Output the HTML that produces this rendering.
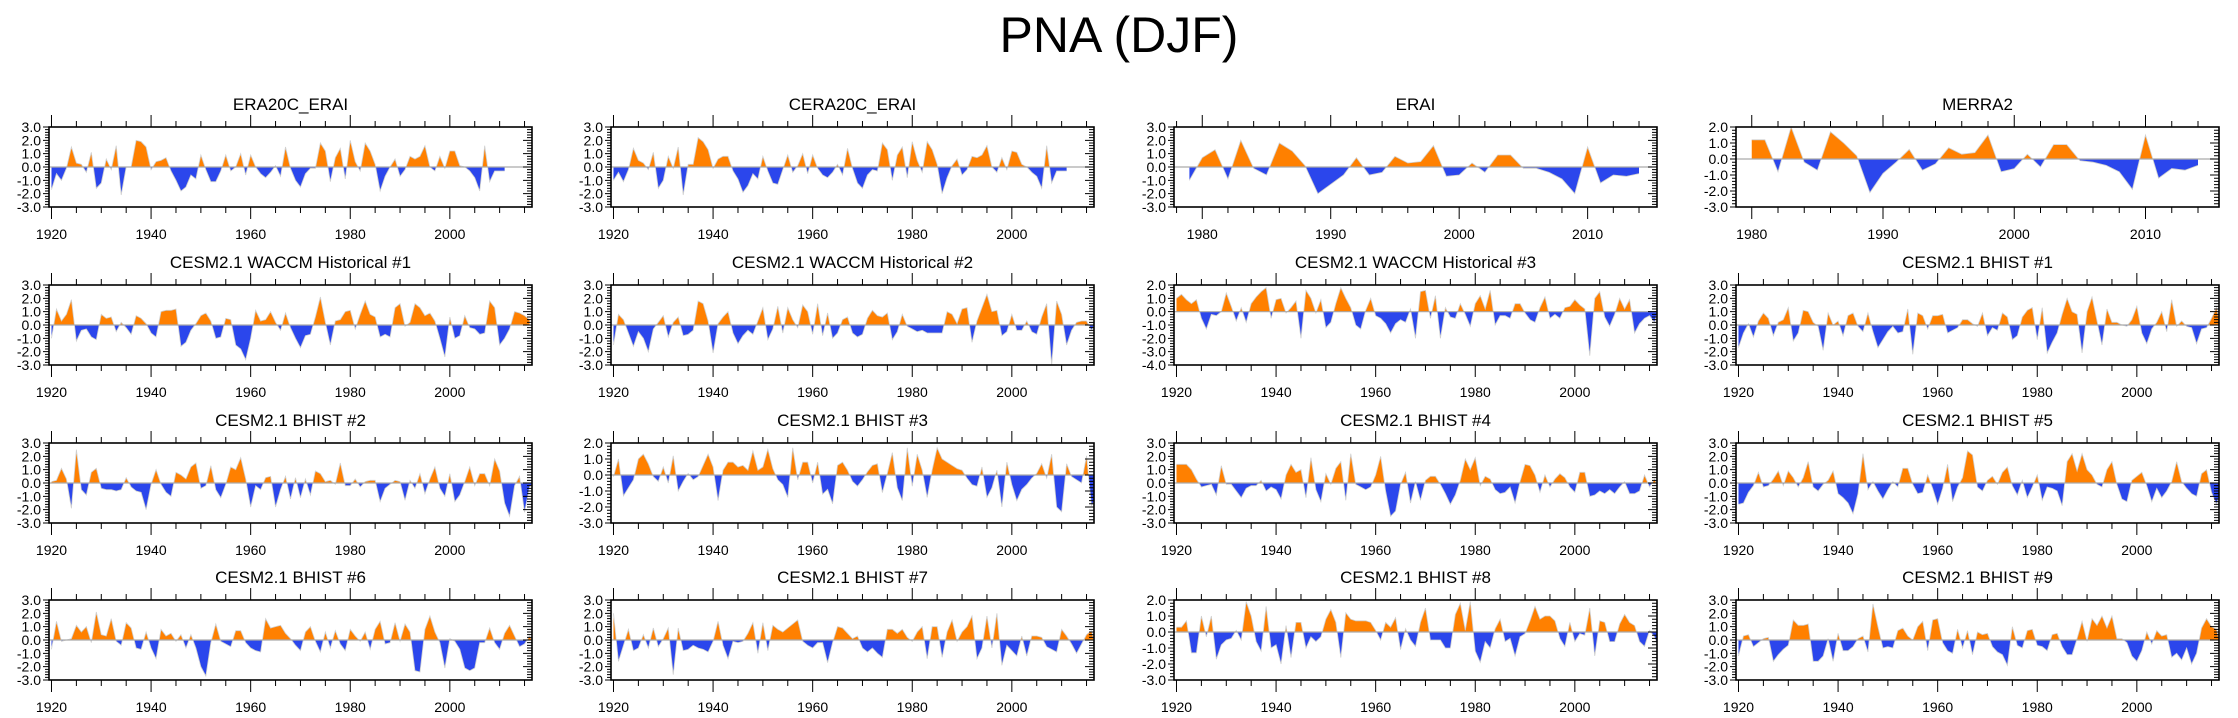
<!DOCTYPE html>
<html><head><meta charset="utf-8">
<style>
html,body{margin:0;padding:0;background:#fff;}
svg{display:block;font-family:"Liberation Sans",sans-serif;}
</style></head>
<body>
<svg id="chart" width="2238" height="718" viewBox="0 0 2238 718" xmlns="http://www.w3.org/2000/svg">
<text x="1119" y="52" text-anchor="middle" font-size="50" fill="#000">PNA (DJF)</text>
</svg>
<script>
// ---- data (annual DJF PNA index) ----
const titles = ["ERA20C_ERAI","CERA20C_ERAI","ERAI","MERRA2",
"CESM2.1 WACCM Historical #1","CESM2.1 WACCM Historical #2","CESM2.1 WACCM Historical #3","CESM2.1 BHIST #1",
"CESM2.1 BHIST #2","CESM2.1 BHIST #3","CESM2.1 BHIST #4","CESM2.1 BHIST #5",
"CESM2.1 BHIST #6","CESM2.1 BHIST #7","CESM2.1 BHIST #8","CESM2.1 BHIST #9"];
const startYears = [1920,1920,1979,1980, 1920,1920,1920,1920, 1920,1920,1920,1920, 1920,1920,1920,1920];
const yMax = [3,3,3,2, 3,3,2,3, 3,2,3,3, 3,3,2,3];
const yMin = [-3,-3,-3,-3, -3,-3,-4,-3, -3,-3,-3,-3, -3,-3,-3,-3];
const xMin = [1919.5,1919.5,1977.8,1978.8, 1919.5,1919.5,1919.5,1919.5, 1919.5,1919.5,1919.5,1919.5, 1919.5,1919.5,1919.5,1919.5];
const xMax = [2016.5,2016.5,2015.4,2015.6, 2016.5,2016.5,2016.5,2016.5, 2016.5,2016.5,2016.5,2016.5, 2016.5,2016.5,2016.5,2016.5];
const xMajor = [20,20,10,10, 20,20,20,20, 20,20,20,20, 20,20,20,20];
const xMinor = [5,5,2,2, 5,5,5,5, 5,5,5,5, 5,5,5,5];

const s0 = [-1.7,-0.5,-1.0,-0.1,1.5,0.3,0.2,-0.4,1.1,-1.6,-1.2,0.6,-0.2,1.6,-2.1,0.0,0.0,2.0,1.9,1.5,-0.2,0.4,0.5,0.7,-0.3,-1.0,-1.8,-1.5,-0.6,-0.9,0.9,-0.2,-1.1,-1.1,-0.3,0.9,-0.3,0.0,1.0,-0.6,0.9,0.0,-0.5,-0.8,-0.4,0.1,-0.7,1.5,-0.1,-1.0,-1.5,-0.5,-0.1,-0.1,1.8,1.2,-1.1,0.7,1.4,-0.9,2.0,0.4,-0.3,1.8,1.2,0.2,-1.8,-0.7,0.0,0.6,-0.7,-0.2,0.8,0.6,0.8,1.6,0.0,-0.3,0.8,-0.1,1.2,1.2,0.1,0.0,-0.3,-0.8,-1.8,1.6,-1.1,-0.3,-0.3,-0.3];
const s1 = [-1.0,-0.4,-1.1,-0.2,1.4,0.5,0.3,-0.2,1.1,-1.6,-1.0,0.8,-0.1,1.5,-2.1,0.2,0.2,2.2,1.9,1.3,-0.1,0.6,0.8,0.8,-0.3,-0.9,-1.9,-1.4,-0.5,-0.9,0.8,-0.3,-1.2,-1.3,-0.2,0.9,-0.4,0.1,1.0,-0.5,0.9,-0.1,-0.6,-0.8,-0.4,0.2,-0.6,1.4,-0.1,-1.2,-1.6,-0.6,-0.2,-0.3,1.8,1.3,-1.0,0.9,1.5,-0.8,1.9,0.5,-0.4,1.9,1.3,0.2,-2.0,-0.8,0.1,0.6,-0.6,-0.2,0.8,0.7,0.9,1.6,0.0,-0.4,0.7,-0.2,1.2,1.1,0.2,0.0,-0.4,-0.7,-1.6,1.6,-1.2,-0.3,-0.3,-0.3];
const s2 = [-1.0,0.7,1.3,-0.9,2.0,-0.1,-0.6,1.8,1.2,0.1,-2.0,-1.3,-0.6,0.7,-0.6,-0.4,0.8,0.3,0.4,1.6,-0.7,-0.6,0.3,-0.4,0.9,0.9,-0.1,-0.1,-0.4,-0.9,-2.0,1.5,-1.2,-0.6,-0.7,-0.5];
const s3 = [1.2,1.2,-0.8,2.0,-0.2,-0.7,1.7,1.0,0.2,-2.1,-0.9,-0.2,0.6,-0.7,-0.3,0.7,0.3,0.4,1.5,-0.8,-0.6,0.3,-0.5,0.9,0.9,-0.1,-0.2,-0.4,-0.8,-1.9,1.5,-1.2,-0.6,-0.7,-0.4];
const s4 = [-1.0,1.2,0.3,0.8,1.9,-1.2,-0.4,-0.3,-0.9,-1.1,0.8,0.5,0.6,-0.5,0.2,-0.2,-0.7,0.7,0.5,0.1,-0.6,-0.9,1.0,1.1,1.1,1.2,-1.6,-1.3,-0.4,0.1,0.7,0.9,0.3,-1.0,-0.9,0.5,0.4,-1.5,-1.8,-2.6,-1.0,1.1,0.3,0.4,1.0,0.2,-0.4,0.9,-0.2,-1.0,-1.7,-0.8,-0.7,0.6,2.1,0.2,-1.5,0.3,0.4,1.0,1.1,-0.3,0.8,1.8,0.8,0.6,-0.9,-0.7,-0.9,1.3,1.6,-0.1,0.2,1.6,1.3,0.7,0.9,0.3,-1.0,-2.4,0.6,-1.0,-0.8,0.7,-0.2,-0.3,-0.7,-0.6,1.8,1.3,-1.5,-1.0,-0.3,1.0,0.9,0.7,0.4];
const s5 = [-1.5,0.8,0.4,-0.6,-1.6,-0.5,-1.0,-2.0,-0.3,0.2,0.7,-0.9,0.2,0.6,-0.8,-0.7,-0.4,1.8,1.6,0.3,-2.1,0.1,0.6,1.0,-0.6,-1.4,-0.8,-0.4,-0.7,0.3,1.3,-1.1,-0.3,1.4,-0.6,1.3,0.4,-0.2,1.5,1.0,-0.7,1.6,-0.8,0.9,-1.0,-0.6,0.4,0.6,-0.6,-0.9,-0.7,0.5,1.1,0.7,0.6,0.9,-1.1,-0.5,0.8,-0.1,-0.3,-0.5,-0.4,-0.6,-0.6,-0.6,-0.6,1.0,0.8,0.1,1.2,1.3,-1.3,0.3,1.3,2.3,1.0,1.1,-0.8,-0.5,0.8,-0.4,-0.4,0.3,-0.5,-0.7,0.6,1.6,-3.0,1.8,0.8,-1.5,-0.4,0.2,0.3,0.3,-0.4,0.3];
const s6 = [1.0,1.3,0.9,0.6,0.9,-0.5,-1.3,-0.2,-0.3,0.0,1.4,0.4,-0.7,0.3,-0.8,0.6,1.1,1.5,1.8,-0.5,0.9,1.0,-0.1,0.3,0.8,-2.0,1.6,1.0,-0.1,0.9,-1.2,-0.8,0.6,1.8,1.0,0.3,-1.0,-1.3,0.1,1.0,-0.3,-0.5,-0.9,-1.6,-0.9,-0.6,-0.8,0.2,-2.0,1.5,1.6,-0.5,1.2,-2.0,0.3,-0.4,-0.5,0.6,-0.2,-1.1,0.6,1.2,0.2,1.6,-1.0,-0.3,-0.3,-0.5,0.6,0.6,-0.1,-0.6,-0.8,0.3,1.1,-0.5,-0.2,-0.5,0.3,0.4,0.9,0.5,0.2,-3.3,1.0,1.5,-0.4,-1.1,-0.2,1.0,0.2,0.9,-1.6,-0.9,-0.5,-0.3,-0.8,0.5];
const s7 = [-1.7,-0.6,0.1,-0.9,0.3,0.9,0.5,-0.8,0.2,0.4,1.3,-1.2,-0.6,1.1,1.0,0.2,-0.1,-1.9,0.9,0.0,0.3,-0.8,0.7,0.9,-0.1,-0.5,0.9,-0.5,-1.7,-1.1,-0.5,-0.1,-0.6,-0.5,1.2,-2.2,0.9,0.7,-0.3,0.7,0.7,0.8,-0.6,-0.4,-0.2,0.4,0.4,0.1,-0.1,0.9,-0.8,-0.2,-0.4,0.9,0.6,-1.1,-0.8,0.6,1.1,1.3,-1.1,1.3,-2.1,-1.3,-0.6,0.8,2.0,1.0,0.8,-2.1,1.0,2.1,0.3,-1.5,1.2,0.2,0.2,0.0,-0.1,0.4,1.4,-0.6,-1.4,-0.3,0.2,1.0,-0.5,1.9,-0.1,0.3,-0.1,-0.2,-1.4,-0.3,-0.2,0.5,1.3,-0.5];
const s8 = [0.1,0.2,1.1,0.3,-1.9,2.5,-0.5,-0.9,0.8,1.1,-0.4,-0.5,-0.5,-0.6,-0.5,0.4,-0.3,-0.6,-0.7,-2.0,-0.1,1.0,-0.1,-0.7,-1.0,0.8,0.6,0.3,1.2,1.5,-0.4,-0.2,1.3,-0.5,-1.1,-0.1,1.2,1.0,1.9,0.3,-1.8,-0.2,-0.5,0.4,0.5,-1.8,-0.5,0.5,-1.2,0.4,-1.1,0.3,-0.9,0.9,0.7,0.1,0.2,-0.1,1.5,-0.2,-0.2,0.3,-0.3,0.1,0.2,0.2,-1.4,-0.4,-0.1,0.2,0.1,-1.3,0.2,-0.4,0.7,-0.8,0.3,1.2,-0.4,-1.0,0.7,-1.4,-0.9,0.1,1.2,-0.2,0.7,0.7,-0.2,1.8,0.9,-1.5,-2.5,-0.2,0.5,-2.2,-0.3,0.1];
const s9 = [-0.1,1.0,-1.3,-0.8,-0.3,1.0,1.3,0.7,-0.1,-0.4,0.5,-0.5,1.2,-1.0,-0.4,0.1,-0.3,-0.1,0.6,1.3,0.5,-1.6,0.3,0.8,0.8,0.5,0.6,0.3,1.5,0.3,0.5,1.6,0.4,-0.3,-0.6,-1.4,1.7,-0.3,0.8,0.8,-0.5,0.8,-1.2,-0.9,-1.8,0.6,0.8,0.3,-0.4,-0.7,-0.3,0.2,0.6,0.7,-1.1,0.1,1.4,-0.8,-1.6,1.7,-0.7,1.3,0.3,-1.4,0.3,1.7,1.0,0.8,0.6,0.4,0.3,-0.2,-0.6,-0.7,0.5,-1.4,-0.8,0.3,-2.0,0.8,-0.6,-1.6,-0.9,-0.6,-0.2,0.1,0.7,-0.2,1.3,-2.0,-2.3,0.7,-0.1,-0.3,-0.5,1.2,-1.9,-1.4,-0.2];
const s10 = [1.4,1.4,1.4,1.0,0.3,-0.3,-0.2,-0.1,-0.9,1.3,-0.1,-0.1,-0.6,-1.1,-0.4,-0.2,-0.2,0.2,-0.6,-0.3,-0.5,-1.2,0.6,1.4,0.8,1.0,-1.1,1.9,-0.5,-1.4,0.7,-0.1,1.1,1.6,-1.3,2.2,-0.1,-0.3,-0.5,-0.3,0.6,2.0,-0.6,-2.5,-2.1,-0.1,0.8,-1.5,0.1,-1.3,0.2,0.5,0.5,-0.1,-0.8,-1.6,-0.9,0.2,1.8,1.0,1.9,-0.2,0.5,0.3,-0.5,-0.8,-0.7,-0.3,-1.5,0.1,1.4,1.3,0.6,-0.7,0.6,-0.3,0.3,0.7,0.4,-0.3,-0.7,0.8,0.8,-1.0,-0.9,-0.6,-0.8,-0.5,-0.8,-0.3,0.1,-0.8,-0.8,-0.6,0.6,-0.3,0.3,-0.5,-1.0,-1.5];
const s11 = [-1.6,-1.5,-0.7,-0.2,0.8,-0.3,-0.2,0.3,0.9,-0.2,0.9,0.4,-0.3,0.4,1.6,-0.3,-0.6,-0.1,0.2,0.9,-0.8,-1.1,-1.5,-2.3,-0.8,2.2,-0.5,0.1,-0.6,-1.2,-0.5,0.1,-0.3,1.1,1.1,-0.1,-0.8,-0.7,0.6,-0.4,-1.6,-0.4,1.4,-1.4,-0.3,0.4,2.4,2.1,-0.3,-0.6,0.2,0.5,-0.1,0.8,1.2,-0.2,-0.9,0.2,-1.1,-0.3,0.6,-1.3,-0.3,-0.4,-0.6,-1.7,1.6,2.2,0.9,2.2,1.0,0.6,-0.1,-0.3,1.0,1.6,-0.1,-1.2,-1.4,0.2,0.5,0.8,-0.2,-1.4,-0.4,-1.1,-0.6,0.1,1.6,0.1,-0.4,-0.8,-1.0,0.7,1.0,-0.7,-1.6,-0.4,0.5];
const s12 = [-0.7,1.4,-0.1,0.0,0.1,1.1,0.6,1.0,-0.2,2.1,0.4,0.3,1.6,-0.1,-0.4,1.3,0.9,-0.6,-0.7,0.6,-0.6,-1.4,0.8,0.3,0.5,-0.1,0.4,-0.6,0.4,-0.6,-2.0,-2.7,-0.2,1.2,-0.1,-0.3,-0.5,0.7,0.7,-0.2,-0.6,-0.8,-0.9,1.6,0.9,1.0,1.1,0.5,0.1,-0.4,-0.8,0.6,1.0,-0.1,-0.9,0.6,-0.6,0.7,-0.3,-0.8,0.8,0.3,-0.1,0.6,-0.7,0.8,1.4,-0.3,-0.2,1.3,-0.1,1.2,0.6,-2.3,-2.4,0.8,1.8,0.6,-0.2,-2.1,0.1,-0.1,-0.7,-2.1,-2.3,-2.1,-0.2,-0.2,0.9,-0.2,-0.7,0.5,1.1,0.3,-0.5,-0.3,0.3,-0.3,-1.0];
const s13 = [2.0,-1.6,-0.4,0.8,-0.8,-0.6,0.4,-0.6,0.9,-0.5,0.1,0.9,-2.6,0.9,-0.8,-0.7,-0.4,-0.6,-0.7,-0.9,-0.1,1.4,-0.4,-1.4,-0.1,-0.2,-0.1,0.5,1.3,-1.0,1.3,-0.8,1.1,0.8,0.6,0.9,1.2,1.5,-0.1,-0.4,-0.6,-0.2,-0.2,-1.7,-0.2,1.0,0.9,0.5,0.1,0.3,-0.6,-0.9,-0.6,-1.0,-1.3,0.8,0.8,0.5,0.8,0.2,-0.1,0.6,1.0,-1.4,1.0,1.0,-1.3,0.6,1.5,-0.1,0.6,1.0,1.8,-1.4,-0.6,1.8,-0.6,2.0,-1.9,-0.4,-0.8,-1.2,0.3,-1.2,0.3,0.3,0.2,-0.5,-0.7,-0.9,0.8,0.3,-0.3,-1.0,-0.3,0.4,0.7,-0.8,-0.5];
const s14 = [0.3,0.3,0.7,-1.3,-1.3,1.0,-0.3,1.0,-1.7,-0.8,-0.5,-0.4,0.1,-0.5,1.9,1.0,-0.6,-1.2,1.6,-1.0,-0.8,-2.0,0.4,-1.6,0.6,0.6,-1.0,-0.3,-0.6,-0.3,0.8,1.4,0.6,-1.6,1.2,0.8,0.7,0.7,0.7,0.6,0.1,-0.5,0.6,0.3,0.9,-1.1,0.2,-0.5,-0.9,0.6,1.5,-0.5,-0.5,-0.5,-1.0,-1.0,1.1,1.8,0.1,1.9,-1.2,-1.9,-0.6,-1.0,0.2,0.8,-0.6,-0.4,-1.5,-0.3,-0.1,0.7,1.6,0.8,1.0,1.0,0.7,-0.4,-0.9,0.6,-0.6,-0.1,-0.2,1.5,-1.5,0.7,0.6,-0.6,-0.6,0.5,1.1,0.6,0.4,-0.6,-0.9,0.1,-0.3,-1.1,0.1,0.7];
const s15 = [-1.2,0.3,0.4,-0.5,-0.2,0.1,0.2,-1.6,-1.1,-0.7,-0.4,1.5,1.1,1.1,1.2,-1.6,-1.6,-1.2,0.1,-1.6,0.5,-0.8,-0.8,-0.5,0.1,0.3,-0.9,2.7,1.0,-0.6,-0.5,-0.6,0.7,0.9,0.3,0.0,1.0,1.4,-0.8,1.5,1.6,-0.2,-0.8,-1.0,0.8,-0.6,0.7,-1.1,0.6,0.4,0.5,-0.5,-0.9,-1.1,-1.9,1.0,-0.4,-0.6,0.7,0.8,-0.4,-0.5,-0.8,0.4,0.5,-0.5,-1.1,-1.1,0.1,1.4,-0.1,1.6,1.1,1.8,0.9,1.8,0.1,0.1,-0.2,-1.2,-1.6,-0.8,0.6,-0.3,0.7,0.3,0.4,-1.3,-1.0,-1.5,-0.6,-1.8,-1.0,0.9,1.6,1.0,0.8,-0.8,-0.8];
const series = [s0,s1,s2,s3,s4,s5,s6,s7,s8,s9,s10,s11,s12,s13,s14,s15];

// ---- layout ----
const colLeft = [49, 611, 1174, 1736];
const rowTop = [127, 285, 443, 600];
const W = 483, H = 80;
const NS = "http://www.w3.org/2000/svg";
const svg = document.getElementById('chart');
function el(tag, attrs, parent){
  const e = document.createElementNS(NS, tag);
  for (const k in attrs) e.setAttribute(k, attrs[k]);
  (parent||svg).appendChild(e);
  return e;
}
const defs = el('defs', {});

series.forEach((vals, p) => {
  const L = colLeft[p % 4], T = rowTop[Math.floor(p / 4)];
  const x0 = xMin[p], x1 = xMax[p], y0 = yMin[p], y1 = yMax[p];
  const sx = yr => L + (yr - x0) / (x1 - x0) * W;
  const sy = v => T + (y1 - v) / (y1 - y0) * H;
  const g = el('g', {});
  
  

  const cp = el('clipPath', {id: 'clip' + p}, defs);
  el('rect', {x: L, y: T, width: W, height: H}, cp);

  // build points with zero-crossings
  const pts = [];
  for (let i = 0; i < vals.length; i++) {
    const yr = startYears[p] + i, v = vals[i];
    if (i > 0) {
      const pv = vals[i-1];
      if ((pv > 0 && v < 0) || (pv < 0 && v > 0)) {
        const t = pv / (pv - v);
        pts.push([yr - 1 + t, 0]);
      }
    }
    pts.push([yr, v]);
  }
  const zy = sy(0);
  const first = sx(pts[0][0]), last = sx(pts[pts.length-1][0]);
  let pos = 'M' + first + ',' + zy, neg = pos, line = '';
  pts.forEach((q, k) => {
    const X = sx(q[0]);
    pos += 'L' + X + ',' + sy(Math.max(q[1], 0));
    neg += 'L' + X + ',' + sy(Math.min(q[1], 0));
    line += (k ? 'L' : 'M') + X + ',' + sy(q[1]);
  });
  pos += 'L' + last + ',' + zy + 'Z';
  neg += 'L' + last + ',' + zy + 'Z';
  const gp = el('g', {'clip-path': 'url(#clip' + p + ')'}, g);
  const a1 = el('path', {d: pos, fill: '#ff8000', stroke: 'none'}, gp);
  
  
  const a2 = el('path', {d: neg, fill: '#2b46ec', stroke: 'none'}, gp);
  
  
  const ln = el('path', {d: line, fill: 'none', stroke: '#cfcfcf', 'stroke-width': 0.8}, gp);
  
  
  const zl = el('line', {x1: L, x2: L + W, y1: zy, y2: zy, stroke: '#aaaaaa', 'stroke-width': 1.2}, g);
  
  

  // frame
  const fr = el('rect', {x: L, y: T, width: W, height: H, fill: 'none', stroke: '#000', 'stroke-width': 1.6}, g);
  
  

  // y ticks
  let tk = '';
  for (let v = y0; v <= y1 + 1e-6; v += 0.2) {
    const Y = sy(v);
    const major = Math.abs(v - Math.round(v)) < 1e-6;
    tk += 'M' + (L - (major ? 6 : 4)) + ',' + Y + 'H' + L;
    tk += 'M' + (L + W - (major ? 9 : 5)) + ',' + Y + 'H' + (L + W);
  }
  // x ticks
  const startT = Math.ceil(x0 / xMinor[p]) * xMinor[p];
  for (let yr = startT; yr <= x1; yr += xMinor[p]) {
    const X = sx(yr);
    const major = yr % xMajor[p] === 0;
    const len = major ? 12 : 6;
    tk += 'M' + X + ',' + T + 'V' + (T - len);
    tk += 'M' + X + ',' + (T + H) + 'V' + (T + H + len);
  }
  const tp = el('path', {d: tk, stroke: '#000', 'stroke-width': 1, fill: 'none'}, g);
  
  

  for (let v = y0; v <= y1 + 1e-6; v += 1) {
    const t = el('text', {x: L - 8, y: sy(v) + 5, 'text-anchor': 'end', 'font-size': 14}, g);
    t.textContent = v.toFixed(1);
    
    
  }
  for (let yr = Math.ceil(x0 / xMajor[p]) * xMajor[p]; yr <= x1; yr += xMajor[p]) {
    const t = el('text', {x: sx(yr), y: T + H + 32, 'text-anchor': 'middle', 'font-size': 14}, g);
    t.textContent = yr;
    
    
  }
  const tt = el('text', {x: L + W / 2, y: T - 17, 'text-anchor': 'middle', 'font-size': 17}, g);
  tt.textContent = titles[p];
  
  
});
</script>
</body></html>
